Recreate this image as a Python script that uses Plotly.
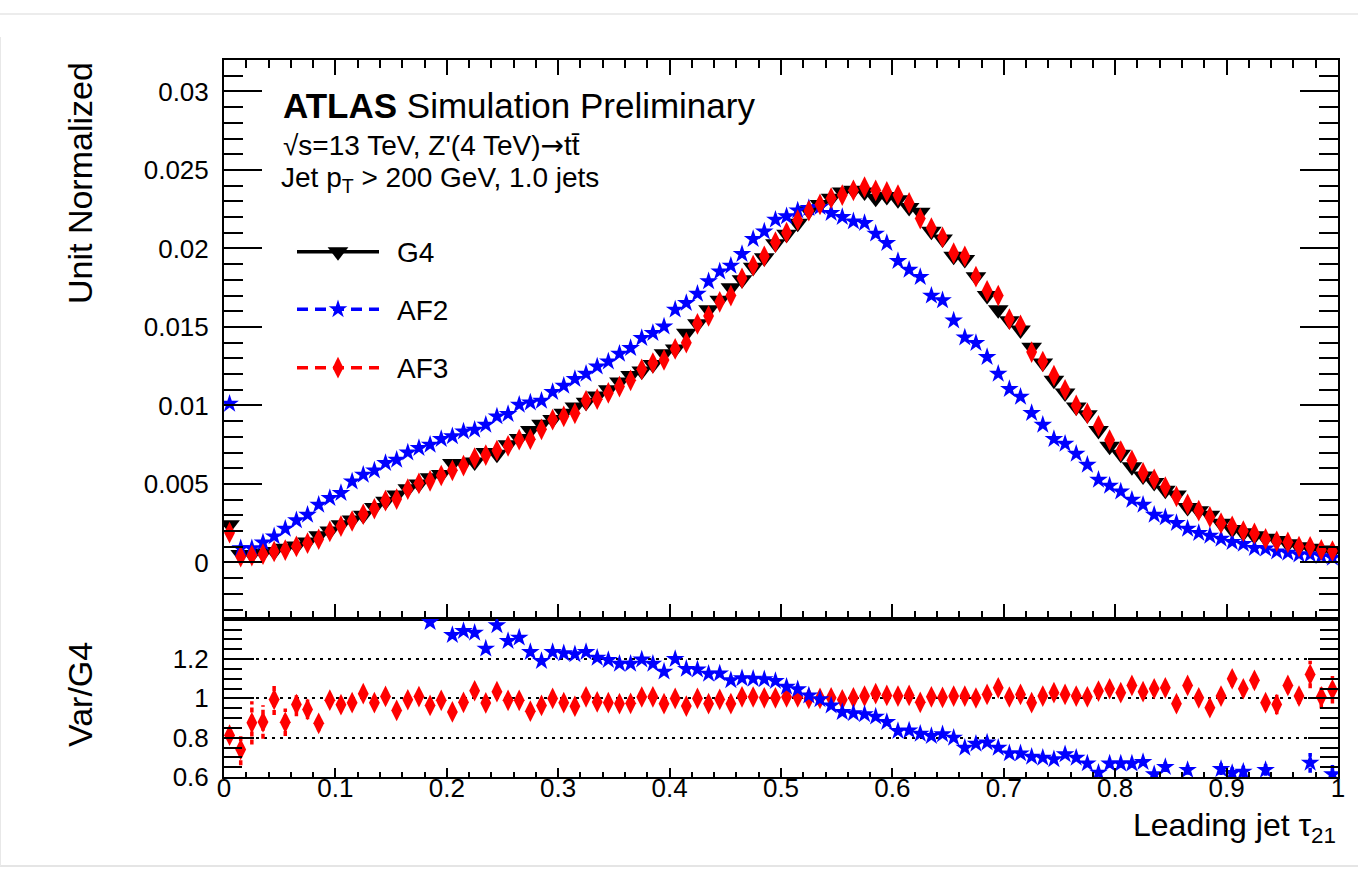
import plotly.graph_objects as go

# ---------------------------------------------------------------------------
# Leading-jet tau21: G4 vs AF2 / AF3 fast simulations, 100 bins on [0, 1]
# ---------------------------------------------------------------------------
N_BINS = 100
BIN_WIDTH = 0.01
tau21 = [round((i + 0.5) * BIN_WIDTH, 3) for i in range(N_BINS)]

g4 = [
    0.0024, 0.0005, 0.0005, 0.0006, 0.0007, 0.0009, 0.00105, 0.0013, 0.0017, 0.0020,
    0.0024, 0.0027, 0.0030, 0.0035, 0.0039, 0.0043, 0.0047, 0.0050, 0.0054, 0.0056,
    0.0063, 0.0063, 0.0064, 0.0070, 0.0069, 0.0075, 0.0079, 0.0084, 0.0088, 0.0091,
    0.0095, 0.0099, 0.0102, 0.0106, 0.0110, 0.0115, 0.0119, 0.0122, 0.0126, 0.0133,
    0.0136, 0.0146, 0.0152, 0.0161, 0.0167, 0.0175, 0.0180, 0.0188, 0.0194, 0.0203,
    0.0209, 0.0216, 0.0224, 0.0228, 0.0232, 0.0236, 0.0237, 0.0236, 0.0232, 0.0233,
    0.0231, 0.0226, 0.0223, 0.0211, 0.0206, 0.0195, 0.0193, 0.0182, 0.0170, 0.0161,
    0.0154, 0.0148, 0.0137, 0.0127, 0.0116, 0.0108, 0.0099, 0.0094, 0.0084, 0.0074,
    0.0069, 0.0061, 0.0055, 0.0051, 0.0046, 0.0043, 0.0035, 0.0033, 0.0030, 0.0025,
    0.0021, 0.0019, 0.0017, 0.00155, 0.0014, 0.0012, 0.0010, 0.0009, 0.0008, 0.0007,
]

af2 = [
    0.0101, 0.0009, 0.0009, 0.00127, 0.00166, 0.00215, 0.00268, 0.00304, 0.00367, 0.0041,
    0.00442, 0.00516, 0.00559, 0.00586, 0.00633, 0.00654, 0.0070, 0.00729, 0.0075, 0.00786,
    0.00803, 0.00834, 0.00845, 0.00877, 0.0093, 0.00945, 0.01004, 0.01019, 0.0103, 0.01085,
    0.01125, 0.01168, 0.01202, 0.01248, 0.0128, 0.01329, 0.01365, 0.01429, 0.01461, 0.01503,
    0.0161, 0.01652, 0.01711, 0.0179, 0.01853, 0.0189, 0.01964, 0.0206, 0.02108, 0.02183,
    0.02204, 0.02242, 0.02257, 0.02264, 0.02225, 0.0220, 0.02172, 0.02162, 0.02094, 0.02034,
    0.0192, 0.01864, 0.01818, 0.01699, 0.01669, 0.01541, 0.01433, 0.01397, 0.01308, 0.01202,
    0.01104, 0.01055, 0.00952, 0.00877, 0.00786, 0.00756, 0.00692, 0.00622, 0.00527, 0.00488,
    0.00452, 0.00399, 0.00367, 0.00304, 0.00287, 0.00251, 0.00215, 0.00187, 0.0017, 0.00151,
    0.0013, 0.00118, 0.00092, 0.00088, 0.0007, 0.00062, 0.0005, 0.0005, 0.0004, 0.0003,
]

af3 = [
    0.0019, 0.00037, 0.00044, 0.00053, 0.0007, 0.00079, 0.00102, 0.00123, 0.00148, 0.00198,
    0.00232, 0.00264, 0.00307, 0.00342, 0.00394, 0.00404, 0.00467, 0.00504, 0.0052, 0.00554,
    0.00587, 0.00617, 0.00665, 0.00684, 0.00713, 0.00742, 0.00782, 0.00785, 0.00848, 0.0091,
    0.0093, 0.0095, 0.0103, 0.0104, 0.0108, 0.0112, 0.0116, 0.0123, 0.0127, 0.0129,
    0.0136, 0.0140, 0.0152, 0.0157, 0.0166, 0.0170, 0.0181, 0.0189, 0.0195, 0.0204,
    0.0210, 0.0218, 0.0224, 0.0228, 0.0232, 0.0234, 0.0237, 0.0239, 0.0237, 0.0236,
    0.0234, 0.0229, 0.0219, 0.0213, 0.0207, 0.0197, 0.0195, 0.0182, 0.0173, 0.0170,
    0.0155, 0.0151, 0.0134, 0.0128, 0.0119, 0.0110, 0.0100, 0.0095, 0.0087, 0.0078,
    0.0071, 0.0065, 0.0057, 0.0053, 0.0048, 0.0042, 0.0037, 0.0033, 0.0029, 0.0025,
    0.0023, 0.0020, 0.00185, 0.0015, 0.00135, 0.00128, 0.00101, 0.0010, 0.0008, 0.00073,
]

# Variation / G4 ratios and their statistical uncertainties
ratio_af2 = [
    4.2, 1.8, 1.8, 2.1, 2.4, 2.4, 2.5, 2.3, 2.2, 2.0,
    1.85, 1.9, 1.85, 1.7, 1.6, 1.52, 1.49, 1.46, 1.388, 1.46,
    1.322, 1.343, 1.334, 1.253, 1.372, 1.292, 1.309, 1.236, 1.19, 1.236,
    1.229, 1.224, 1.236, 1.207, 1.195, 1.176, 1.176, 1.198, 1.176, 1.136,
    1.2, 1.15, 1.147, 1.125, 1.127, 1.092, 1.102, 1.1, 1.097, 1.088,
    1.059, 1.046, 1.015, 0.995, 0.964, 0.93, 0.924, 0.919, 0.907, 0.88,
    0.834, 0.837, 0.82, 0.808, 0.817, 0.8, 0.749, 0.769, 0.775, 0.749,
    0.72, 0.72, 0.703, 0.698, 0.69, 0.715, 0.698, 0.669, 0.622, 0.668,
    0.668, 0.668, 0.676, 0.614, 0.651, 0.54, 0.636, 0.55, 0.53, 0.64,
    0.62, 0.627, 0.55, 0.636, 0.52, 0.54, 0.5, 0.672, 0.52, 0.614,
]
ratio_af2_err = [
    0.05, 0.08, 0.1, 0.08, 0.08, 0.07, 0.06, 0.05, 0.04, 0.03,
    0.03, 0.03, 0.02, 0.02, 0.02, 0.02, 0.02, 0.02, 0.02, 0.02,
    0.02, 0.02, 0.02, 0.02, 0.02, 0.02, 0.02, 0.02, 0.015, 0.015,
    0.012, 0.012, 0.012, 0.012, 0.012, 0.012, 0.012, 0.012, 0.012, 0.012,
    0.012, 0.012, 0.012, 0.012, 0.012, 0.012, 0.012, 0.012, 0.012, 0.012,
    0.012, 0.012, 0.012, 0.012, 0.012, 0.012, 0.012, 0.012, 0.012, 0.012,
    0.012, 0.012, 0.012, 0.012, 0.012, 0.012, 0.012, 0.012, 0.012, 0.012,
    0.015, 0.015, 0.015, 0.015, 0.015, 0.015, 0.015, 0.015, 0.02, 0.02,
    0.02, 0.02, 0.02, 0.02, 0.025, 0.025, 0.025, 0.025, 0.03, 0.03,
    0.03, 0.03, 0.03, 0.03, 0.035, 0.035, 0.04, 0.05, 0.05, 0.06,
]
ratio_af3 = [
    0.813, 0.74, 0.876, 0.88, 0.995, 0.878, 0.969, 0.944, 0.873, 0.991,
    0.968, 0.978, 1.024, 0.978, 1.01, 0.939, 0.993, 1.009, 0.964, 0.99,
    0.931, 0.98, 1.039, 0.977, 1.034, 0.99, 0.99, 0.935, 0.964, 1.0,
    0.978, 0.96, 1.008, 0.982, 0.978, 0.973, 0.975, 1.007, 1.008, 0.973,
    1.0, 0.961, 1.0, 0.973, 0.995, 0.973, 1.008, 1.007, 1.003, 1.003,
    1.007, 1.007, 1.0, 1.0, 1.003, 0.993, 1.003, 1.012, 1.024, 1.015,
    1.012, 1.015, 0.98, 1.008, 1.005, 1.012, 1.012, 1.002, 1.02, 1.054,
    1.007, 1.02, 0.978, 1.012, 1.029, 1.02, 1.012, 1.008, 1.037, 1.049,
    1.029, 1.066, 1.034, 1.049, 1.054, 0.973, 1.066, 1.003, 0.953, 1.012,
    1.1, 1.049, 1.092, 0.978, 0.969, 1.066, 1.012, 1.122, 1.008, 1.044,
]
ratio_af3_err = [
    0.03, 0.08, 0.11, 0.085, 0.08, 0.07, 0.06, 0.05, 0.04, 0.03,
    0.03, 0.03, 0.02, 0.02, 0.02, 0.02, 0.02, 0.02, 0.02, 0.02,
    0.02, 0.02, 0.02, 0.02, 0.02, 0.02, 0.02, 0.02, 0.02, 0.02,
    0.02, 0.012, 0.012, 0.012, 0.012, 0.012, 0.012, 0.012, 0.012, 0.012,
    0.012, 0.012, 0.012, 0.012, 0.012, 0.012, 0.012, 0.012, 0.012, 0.012,
    0.012, 0.012, 0.012, 0.012, 0.012, 0.012, 0.012, 0.012, 0.012, 0.012,
    0.012, 0.012, 0.012, 0.012, 0.012, 0.012, 0.012, 0.012, 0.012, 0.012,
    0.012, 0.012, 0.012, 0.012, 0.012, 0.012, 0.012, 0.012, 0.012, 0.012,
    0.012, 0.02, 0.02, 0.02, 0.02, 0.025, 0.025, 0.025, 0.03, 0.03,
    0.04, 0.04, 0.04, 0.04, 0.05, 0.04, 0.04, 0.07, 0.06, 0.07,
]

series_names = ["G4", "AF2", "AF3"]

main_y_ticks = [0, 0.005, 0.01, 0.015, 0.02, 0.025, 0.03]
main_y_ticklabels = ["0", "0.005", "0.01", "0.015", "0.02", "0.025", "0.03"]
ratio_y_ticks = [0.6, 0.8, 1.0, 1.2]
ratio_y_ticklabels = ["0.6", "0.8", "1", "1.2"]
x_ticks = [0, 0.1, 0.2, 0.3, 0.4, 0.5, 0.6, 0.7, 0.8, 0.9, 1.0]
x_ticklabels = ["0", "0.1", "0.2", "0.3", "0.4", "0.5", "0.6", "0.7", "0.8", "0.9", "1"]

# ---------------------------------------------------------------------------
# Page geometry (pixels) and styling
# ---------------------------------------------------------------------------
W, H = 1358, 882
PLOT_L, PLOT_R, PLOT_T, PLOT_B = 224, 1338, 60, 777
SPLIT_Y = 619  # boundary between main pad and ratio pad
FONT = "Liberation Sans, Arial, Helvetica, sans-serif"
BLACK, BLUE, RED = "#000000", "#0000ff", "#ff0000"


def px_x(px):
    return (px - PLOT_L) / (PLOT_R - PLOT_L)


def px_y(py):
    return (PLOT_B - py) / (PLOT_B - PLOT_T)


split = px_y(SPLIT_Y)

style = {
    "G4": dict(color=BLACK, symbol="triangle-down", size=18, dash="solid"),
    "AF2": dict(color=BLUE, symbol="star", size=14, dash="11px,7px"),
    "AF3": dict(color=RED, symbol="diamond-tall", size=15.5, dash="11px,7px"),
}


def error_segments(x, y, err):
    xs, ys = [], []
    for xi, yi, ei in zip(x, y, err):
        xs += [xi, xi, None]
        ys += [yi - ei, yi + ei, None]
    return xs, ys


fig = go.Figure()

# Main pad: unit-normalised distributions
for name, vals in zip(series_names, [g4, af2, af3]):
    s = style[name]
    fig.add_trace(go.Scatter(
        x=tau21, y=vals, mode="markers", name=name, showlegend=False,
        marker=dict(symbol=s["symbol"], size=s["size"], color=s["color"], line=dict(width=0)),
        xaxis="x", yaxis="y", hoverinfo="x+y+name",
    ))

# Ratio pad: error bars first, then markers (AF3 below AF2)
for name, vals, errs in [("AF3", ratio_af3, ratio_af3_err), ("AF2", ratio_af2, ratio_af2_err)]:
    s = style[name]
    ex, ey = error_segments(tau21, vals, errs)
    fig.add_trace(go.Scatter(
        x=ex, y=ey, mode="lines", showlegend=False, hoverinfo="skip",
        line=dict(color=s["color"], width=3.5, dash="5px,3px"),
        xaxis="x2", yaxis="y2",
    ))
for name, vals in [("AF3", ratio_af3), ("AF2", ratio_af2)]:
    s = style[name]
    fig.add_trace(go.Scatter(
        x=tau21, y=vals, mode="markers", name=name + "/G4", showlegend=False,
        marker=dict(symbol=s["symbol"], size=s["size"], color=s["color"], line=dict(width=0)),
        xaxis="x2", yaxis="y2",
    ))

# Legend keys drawn on an overlay frame in figure-fraction units
legend_rows_py = [251.7, 309.3, 367.7]
key_x0, key_x1 = px_x(297), px_x(379)
for name, py in zip(series_names, legend_rows_py):
    s = style[name]
    yk = px_y(py)
    fig.add_trace(go.Scatter(
        x=[key_x0, key_x1], y=[yk, yk], mode="lines", showlegend=False, hoverinfo="skip",
        line=dict(color=s["color"], width=3.5, dash=s["dash"]),
        xaxis="x3", yaxis="y3",
    ))
    fig.add_trace(go.Scatter(
        x=[(key_x0 + key_x1) / 2], y=[yk], mode="markers", showlegend=False, hoverinfo="skip",
        marker=dict(symbol=s["symbol"], size=s["size"], color=s["color"], line=dict(width=0)),
        xaxis="x3", yaxis="y3",
    ))
    fig.add_annotation(
        text=name, x=px_x(395), y=px_y(py + 1), xref="paper", yref="paper",
        xanchor="left", yanchor="middle", showarrow=False,
        font=dict(family=FONT, size=28, color=BLACK),
    )

axis_common = dict(
    showline=True, linecolor=BLACK, linewidth=2, zeroline=False,
    ticks="inside", tickcolor=BLACK, tickwidth=2,
    tickfont=dict(family=FONT, size=26, color=BLACK),
)

fig.update_layout(
    width=W, height=H,
    margin=dict(l=PLOT_L, r=W - PLOT_R, t=PLOT_T, b=H - PLOT_B, pad=0),
    paper_bgcolor="white", plot_bgcolor="white",
    showlegend=False,
    xaxis=dict(
        **axis_common, domain=[0, 1], anchor="y", range=[0, 1],
        tickvals=x_ticks, showticklabels=False, ticklen=15, mirror="allticks",
        showgrid=False,
        minor=dict(ticks="inside", dtick=0.02, ticklen=8, tickwidth=2, tickcolor=BLACK, showgrid=False),
    ),
    yaxis=dict(
        **axis_common, domain=[split, 1], anchor="x", range=[-0.0036, 0.0320],
        tickvals=main_y_ticks, ticktext=main_y_ticklabels, ticklen=38,
        mirror="allticks", showgrid=False, ticklabelstandoff=8,
        minor=dict(ticks="inside", dtick=0.001, tick0=0, ticklen=19, tickwidth=2, tickcolor=BLACK, showgrid=False),
    ),
    xaxis2=dict(
        **axis_common, domain=[0, 1], anchor="y2", range=[0, 1],
        tickvals=x_ticks, ticktext=x_ticklabels, ticklen=9, mirror=True,
        showgrid=False, ticklabelstandoff=-13,
        minor=dict(ticks="inside", dtick=0.02, ticklen=5, tickwidth=2, tickcolor=BLACK, showgrid=False),
    ),
    yaxis2=dict(
        **axis_common, domain=[0, split], anchor="x2", range=[0.6, 1.404],
        tickvals=ratio_y_ticks, ticktext=ratio_y_ticklabels, ticklen=30,
        mirror="allticks", ticklabelstandoff=8,
        showgrid=True, gridcolor=BLACK, gridwidth=2, griddash="3px,5px",
        minor=dict(ticks="inside", dtick=0.05, tick0=0.6, ticklen=18, tickwidth=2, tickcolor=BLACK, showgrid=False),
    ),
    xaxis3=dict(overlaying="x", range=[0, 1], visible=False, fixedrange=True),
    yaxis3=dict(overlaying="y", range=[split, 1], visible=False, fixedrange=True),
)

# Experiment label and selection text
fig.add_annotation(
    text="<b>ATLAS</b> Simulation Preliminary", x=px_x(281), y=px_y(105),
    xref="paper", yref="paper", xanchor="left", yanchor="middle", showarrow=False,
    font=dict(family=FONT, size=35, color=BLACK),
)
fig.add_annotation(
    text="\u221as=13 TeV, Z'(4 TeV)<span style=\"font-family:DejaVu Sans\">\u2192</span>tt\u0304",
    x=px_x(281), y=px_y(145),
    xref="paper", yref="paper", xanchor="left", yanchor="middle", showarrow=False,
    font=dict(family=FONT, size=28, color=BLACK),
)
fig.add_annotation(
    text="Jet p<sub>T</sub> &gt; 200 GeV, 1.0 jets", x=px_x(279), y=px_y(179),
    xref="paper", yref="paper", xanchor="left", yanchor="middle", showarrow=False,
    font=dict(family=FONT, size=28, color=BLACK),
)

# Axis titles (ROOT style: y title at the top end, x title at the right end)
fig.add_annotation(
    text="Unit Normalized", x=px_x(80), y=px_y(183), textangle=-90,
    xref="paper", yref="paper", xanchor="center", yanchor="middle", showarrow=False,
    font=dict(family=FONT, size=34, color=BLACK),
)
fig.add_annotation(
    text="Var/G4", x=px_x(80), y=px_y(695), textangle=-90,
    xref="paper", yref="paper", xanchor="center", yanchor="middle", showarrow=False,
    font=dict(family=FONT, size=34, color=BLACK),
)
fig.add_annotation(
    text="Leading jet \u03c4<sub>21</sub>", x=1.0, y=px_y(827),
    xref="paper", yref="paper", xanchor="right", yanchor="middle", showarrow=False,
    font=dict(family=FONT, size=32, color=BLACK),
)

# Thin page frame lines
fig.add_shape(type="line", xref="paper", yref="paper", x0=px_x(0), x1=px_x(W), y0=px_y(14), y1=px_y(14),
              line=dict(color="#ececec", width=2))
fig.add_shape(type="line", xref="paper", yref="paper", x0=px_x(0), x1=px_x(W), y0=px_y(866), y1=px_y(866),
              line=dict(color="#dcdcdc", width=1.5))
fig.add_shape(type="line", xref="paper", yref="paper", x0=px_x(0.5), x1=px_x(0.5), y0=px_y(37), y1=px_y(866),
              line=dict(color="#e8e8e8", width=1))

fig.write_html("out.html")
